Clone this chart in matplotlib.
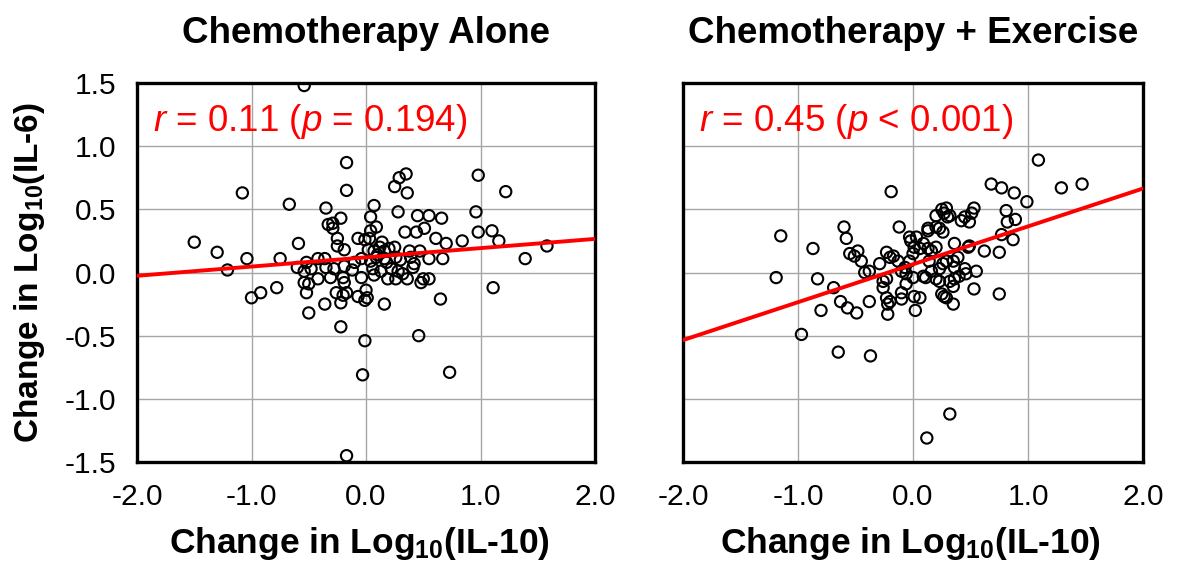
import numpy as np
from matplotlib import pyplot as plt

plt.rcParams['font.family'] = ['Liberation Sans', 'DejaVu Sans']
plt.rcParams['mathtext.fontset'] = 'custom'
plt.rcParams['mathtext.rm'] = 'Liberation Sans'
plt.rcParams['mathtext.it'] = 'Liberation Sans:italic'
plt.rcParams['mathtext.bf'] = 'Liberation Sans:bold'
plt.rcParams['axes.unicode_minus'] = False

# chemotherapy alone: change in log10(IL-10) vs change in log10(IL-6)
alone_x = [-1.50, -1.30, -1.21, -1.08, -1.04, -1.00, -0.92, -0.78, -0.75, -0.67,
           -0.59, -0.54, -0.60, -0.54, -0.52, -0.54, -0.50, -0.52, -0.50, -0.48,
           -0.42, -0.42, -0.36, -0.36, -0.35, -0.35, -0.33, -0.29, -0.29, -0.31,
           -0.28, -0.26, -0.25, -0.25, -0.22, -0.22, -0.22, -0.20, -0.20, -0.19,
           -0.19, -0.19, -0.17, -0.17, -0.17, -0.17, -0.07, -0.07, -0.04, -0.04,
           -0.03, -0.01, -0.01, -0.01, 0.00, 0.01, 0.03, 0.04, 0.04, 0.07,
           0.09, 0.04, 0.07, 0.09, 0.12, 0.16, 0.16, 0.20, 0.25, 0.26,
           0.06, 0.07, 0.13, 0.22, 0.19, 0.26, 0.28, 0.32, 0.36, 0.16,
           0.25, 0.29, 0.35, 0.36, 0.28, 0.34, 0.38, 0.39, 0.41, 0.42,
           0.44, 0.45, 0.51, 0.55, 0.66, 0.47, 0.55, 0.50, 0.55, 0.48,
           0.61, 0.70, 0.67, 0.84, 0.65, 0.46, 0.73, 0.96, 0.98, 0.98,
           1.10, 1.16, 1.22, 1.11, 1.39, 1.58, 0.10, 0.18, 0.02, 0.14,
           -0.10, 0.30, -0.12]
alone_y = [0.24, 0.16, 0.02, 0.63, 0.11, -0.20, -0.16, -0.12, 0.11, 0.54,
           0.23, 1.48, 0.04, 0.01, 0.08, -0.08, -0.09, -0.16, -0.32, 0.03,
           0.11, -0.05, 0.11, -0.25, 0.51, 0.04, 0.38, 0.39, 0.35, -0.04,
           0.03, -0.16, 0.27, 0.21, 0.43, -0.24, -0.43, -0.04, -0.18, 0.18,
           0.05, -0.08, 0.87, 0.65, -1.45, -0.16, 0.27, -0.19, 0.11, -0.04,
           -0.81, 0.26, -0.54, -0.22, -0.14, -0.20, 0.27, 0.33, 0.44, 0.53,
           0.36, 0.09, 0.17, 0.12, 0.20, 0.17, 0.11, 0.19, 0.20, 0.12,
           0.03, -0.02, 0.01, 0.03, -0.05, -0.05, 0.01, -0.01, -0.05, -0.25,
           0.68, 0.75, 0.78, 0.63, 0.48, 0.32, 0.17, 0.12, 0.04, 0.07,
           0.32, 0.45, 0.35, 0.45, 0.43, 0.17, 0.11, -0.05, -0.05, -0.08,
           0.27, 0.23, 0.11, 0.25, -0.21, -0.50, -0.79, 0.48, 0.77, 0.32,
           0.33, 0.25, 0.64, -0.12, 0.11, 0.21, 0.14, 0.08, 0.18, 0.24,
           0.08, 0.10, 0.02]

# chemotherapy + exercise
exer_x = [-1.19, -1.15, -0.97, -0.87, -0.83, -0.80, -0.69, -0.65, -0.63, -0.60,
          -0.58, -0.57, -0.55, -0.51, -0.48, -0.49, -0.45, -0.42, -0.38, -0.38,
          -0.37, -0.29, -0.26, -0.26, -0.23, -0.23, -0.23, -0.22, -0.22, -0.20,
          -0.20, -0.19, -0.17, -0.13, -0.12, -0.10, -0.10, -0.10, -0.07, -0.06,
          -0.06, -0.03, -0.03, -0.02, 0.00, 0.00, 0.01, 0.01, 0.02, 0.03,
          0.06, 0.06, 0.09, 0.09, 0.11, 0.12, 0.13, 0.13, 0.13, 0.14,
          0.16, 0.16, 0.20, 0.20, 0.20, 0.20, 0.23, 0.23, 0.23, 0.25,
          0.25, 0.26, 0.26, 0.27, 0.27, 0.29, 0.29, 0.29, 0.30, 0.32,
          0.32, 0.32, 0.35, 0.35, 0.35, 0.36, 0.36, 0.36, 0.39, 0.40,
          0.42, 0.45, 0.45, 0.46, 0.48, 0.49, 0.49, 0.51, 0.53, 0.53,
          0.55, 0.62, 0.68, 0.75, 0.75, 0.77, 0.77, 0.81, 0.82, 0.89,
          0.87, 0.88, 0.99, 1.09, 1.29, 1.47]
exer_y = [-0.04, 0.29, -0.49, 0.19, -0.05, -0.30, -0.12, -0.63, -0.23, 0.36,
          0.27, -0.28, 0.15, 0.13, 0.17, -0.32, 0.09, 0.00, 0.01, -0.23,
          -0.66, 0.07, -0.07, -0.12, 0.16, -0.05, -0.20, -0.25, -0.33, 0.12,
          -0.23, 0.64, 0.13, 0.09, 0.36, 0.01, -0.16, -0.21, 0.04, -0.01,
          -0.09, 0.09, 0.28, 0.25, 0.15, -0.04, 0.20, -0.19, -0.30, 0.28,
          0.19, -0.20, 0.23, -0.03, -0.04, -1.31, 0.19, 0.33, 0.35, 0.09,
          0.17, 0.01, 0.20, -0.05, 0.45, 0.36, 0.03, -0.07, 0.35, 0.50,
          -0.17, 0.07, 0.32, 0.47, -0.19, 0.51, 0.09, -0.20, 0.44, 0.45,
          -0.07, -1.12, 0.09, -0.11, -0.25, 0.04, 0.23, -0.05, 0.12, -0.03,
          0.41, 0.44, 0.03, -0.01, 0.20, 0.40, 0.21, 0.47, 0.51, -0.13,
          0.01, 0.17, 0.70, 0.16, -0.17, 0.67, 0.30, 0.49, 0.40, 0.42,
          0.26, 0.63, 0.56, 0.89, 0.67, 0.70]

# fitted lines (intercept, slope) and stats as printed on the panels
alone_fit = (0.12, 0.073)
exer_fit = (0.065, 0.30)
titles = ['Chemotherapy Alone', 'Chemotherapy + Exercise']
stats = [r'$\mathit{r}$ = 0.11 ($\mathit{p}$ = 0.194)',
         r'$\mathit{r}$ = 0.45 ($\mathit{p}$ < 0.001)']

xticks = [-2.0, -1.0, 0.0, 1.0, 2.0]
yticks = [-1.5, -1.0, -0.5, 0.0, 0.5, 1.0, 1.5]

fig = plt.figure(figsize=(11.79, 5.72), dpi=100)
ax1 = fig.add_axes([0.1162, 0.1923, 0.3885, 0.6626])
ax2 = fig.add_axes([0.5793, 0.1923, 0.3902, 0.6626])

panels = [(ax1, alone_x, alone_y, alone_fit),
          (ax2, exer_x, exer_y, exer_fit)]

for i, (ax, xs, ys, fit) in enumerate(panels):
    ax.set_xlim(-2, 2)
    ax.set_ylim(-1.5, 1.5)
    ax.set_xticks(xticks)
    ax.set_yticks(yticks)
    ax.grid(True, color='#a6a6a6', linewidth=1.0, zorder=0)
    ax.set_axisbelow(True)
    ax.tick_params(length=0, labelsize=21.5, pad=15)
    ax.xaxis.set_major_formatter(plt.FormatStrFormatter('%.1f'))
    ax.yaxis.set_major_formatter(plt.FormatStrFormatter('%.1f'))
    for s in ax.spines.values():
        s.set_linewidth(2.4)
        s.set_color('black')

    ax.scatter(xs, ys, s=66, facecolors='none', edgecolors='black',
               linewidths=1.5, zorder=3)

    lx = np.array([-2.0, 2.0])
    ax.plot(lx, fit[0] + fit[1] * lx, color='#ff0000', linewidth=2.8, zorder=4)

    ax.text(-1.86, 1.12, stats[i], color='#ff0000', fontsize=26.5, va='baseline', zorder=5)
    ax.set_title(titles[i], fontsize=26.5, fontweight='bold', pad=29)
    ax.set_xlabel(r'Change in Log$_{\mathbf{10}}$(IL-10)', fontsize=25.5, fontweight='bold')
    ax.xaxis.set_label_coords(0.485, -0.165)

ax2.xaxis.set_label_coords(0.495, -0.165)
ax1.set_ylabel(r'Change in Log$_{\mathbf{10}}$(IL-6)', fontsize=24, fontweight='bold')
ax1.yaxis.set_label_coords(-0.197, 0.5)
ax2.set_yticklabels([])

plt.savefig('out.png', dpi=100)
